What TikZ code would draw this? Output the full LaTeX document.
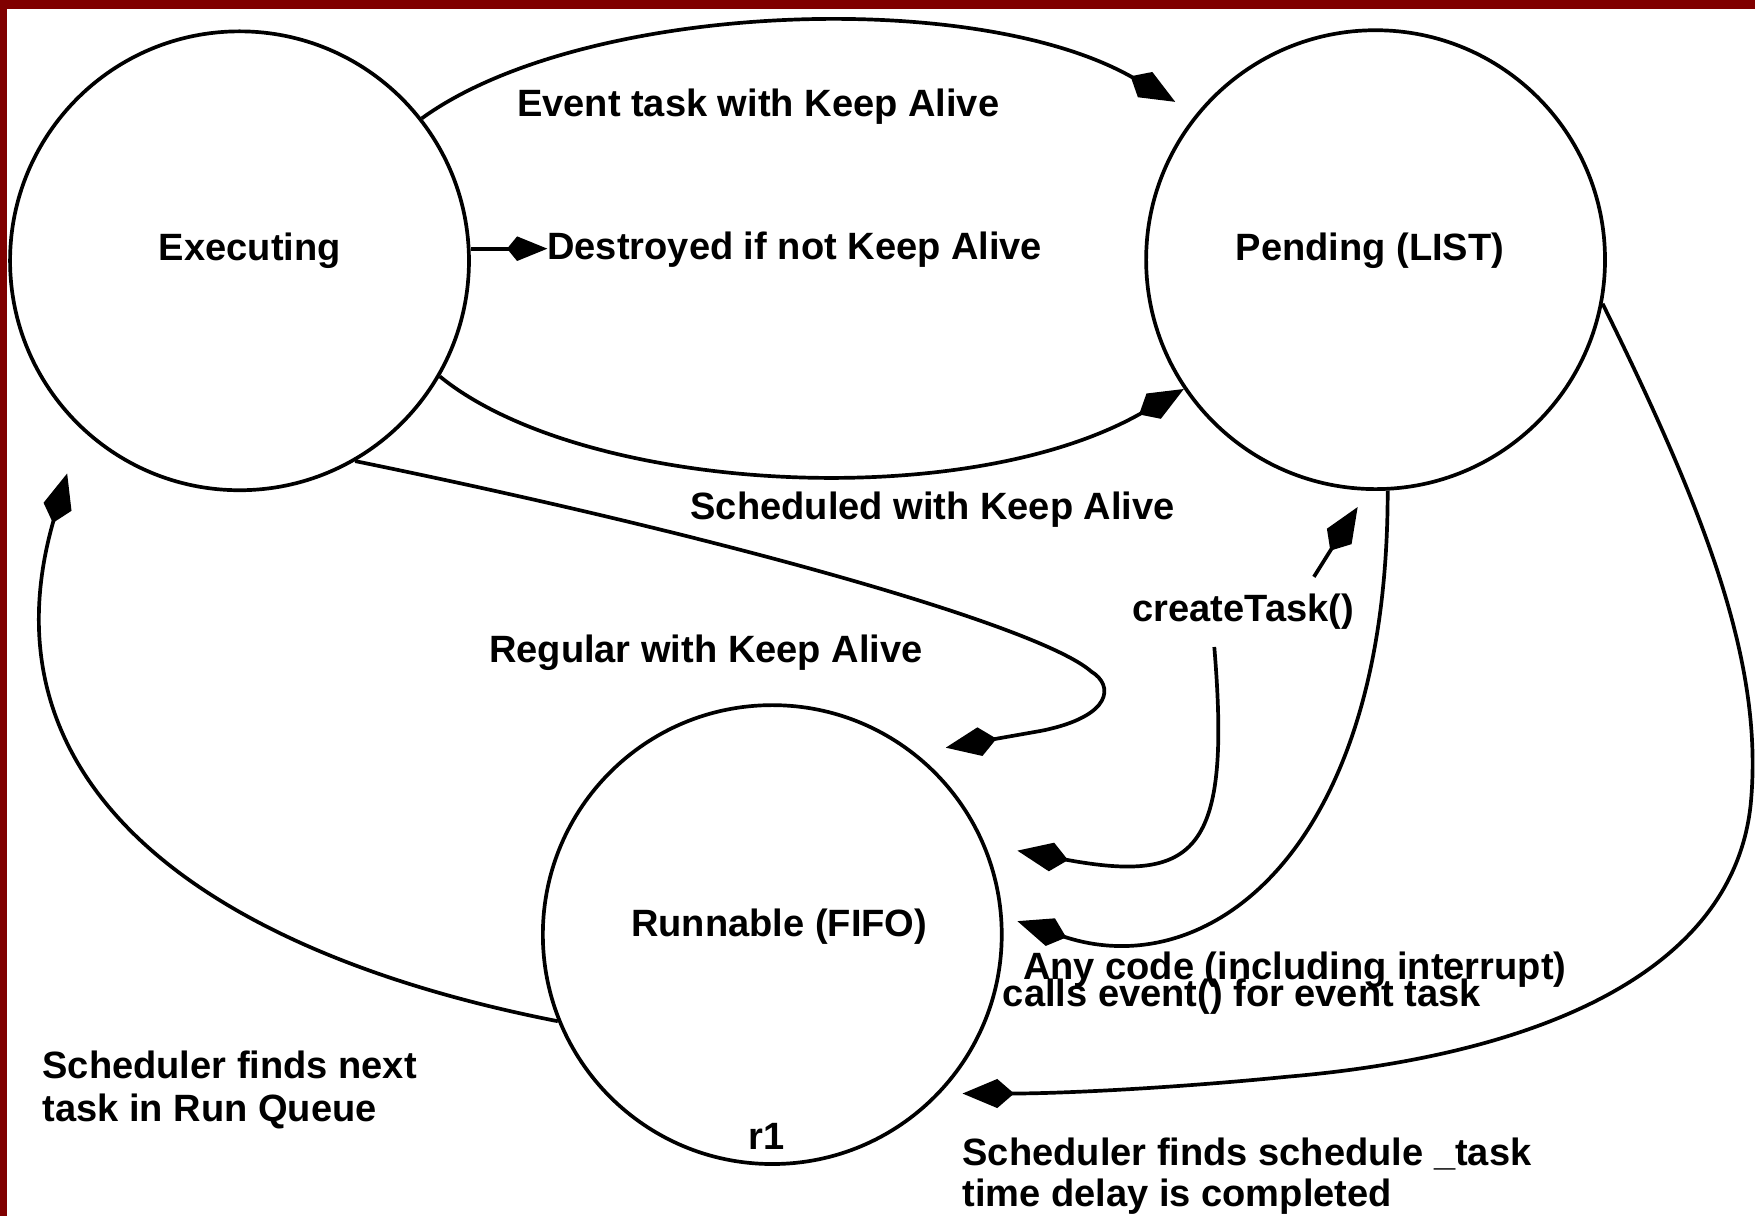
\documentclass[tikz,border=0pt]{standalone}
\usepackage{fontspec}
\setmainfont{Liberation Sans}
\usetikzlibrary{arrows.meta,calc}
\definecolor{framered}{RGB}{128,0,0}
\begin{document}
\begin{tikzpicture}[x=1pt,y=-1pt,
  state/.style={circle,draw,line width=3.3pt,minimum size=410pt,inner sep=0pt},
  lbl/.style={anchor=base west,inner sep=0pt,outer sep=0pt,font=\fontsize{34}{34}\selectfont\bfseries},
  conn/.style={line width=3.3pt,-{Kite[length=46pt,width=26pt,inset=15pt]}},
]
\useasboundingbox (0,0) rectangle (1568,1086);
\fill[white] (0,0) rectangle (1568,1086);
\fill[framered] (0,0) rectangle (1568,8);
\fill[framered] (0,0) rectangle (6,1086);

% states
\node[state] (ex) at (214,233) {};
\node[state] (pe) at (1229,232) {};
\node[state] (ru) at (690,835) {};

% texts
\node[lbl] (exl) at (142,233) {Executing};
\node[lbl] (pel) at (1104,233) {Pending (LIST)};
\node[lbl] (rul) at (564,837) {Runnable (FIFO)};
\node[lbl] (r1) at (669,1027) {r1};
\node[lbl] (evt) at (462,104) {Event task with Keep Alive};
\node[lbl] (dest) at (489,232) {Destroyed if not Keep Alive};
\node[lbl] (sch) at (617,464) {Scheduled with Keep Alive};
\node[lbl] (reg) at (437,592) {Regular with Keep Alive};
\node[lbl] (ct) at (1012,555) {createTask()};
\node[lbl] (any1) at (914,875) {Any code (including interrupt)};
\node[lbl] (any2) at (896,899) {calls event() for event task};
\node[lbl] (sn1) at (38,964) {Scheduler finds next};
\node[lbl] (sn2) at (38,1002) {task in Run Queue};
\node[lbl] (st1) at (860,1041) {Scheduler finds schedule \_task};
\node[lbl] (st2) at (860,1078) {time delay is completed};

% connectors
\draw[conn] (ex.38) .. controls (520,2) and (870,-12) .. ($(pe.center)+(-179,-141)$);
\draw[line width=3.3pt,-{Kite[length=36pt,width=22pt,inset=9pt]}] (ex.3) -- (ex.3 -| dest.west);
\draw[conn] (ex.-30) .. controls (520,440) and (860,460) .. (pe.214.6);
\draw[conn] (ex.-60) .. controls (650,480) and (930,560) .. (975,600)
   .. controls (995,612) and (995,640) .. (930,653) -- ($(ru.center)+(155,-167)$);
\draw[conn] (pe.-87) .. controls (1240,760) and (1080,880) .. ($(ru.center)+(219,-12)$);
\draw[conn] ($(ct.south)+(-26,16)$) .. controls (1100,760) and (1070,790) .. ($(ru.center)+(219,-75)$);
\draw[conn] ($(ct.north)+(63,-15)$) -- ($(pe.center)+(-16,221)$);
\draw[conn] (pe.-11.3) .. controls (1530,470) and (1576,600) .. (1564,720)
   .. controls (1546,880) and (1350,945) .. (1150,962)
   .. controls (1050,972) and (950,977) .. ($(ru.center)+(170,142)$);
\draw[conn] (ru.202) .. controls (180,850) and (-20,700) .. ($(ex.center)+(-154,190)$);
\end{tikzpicture}
\end{document}
